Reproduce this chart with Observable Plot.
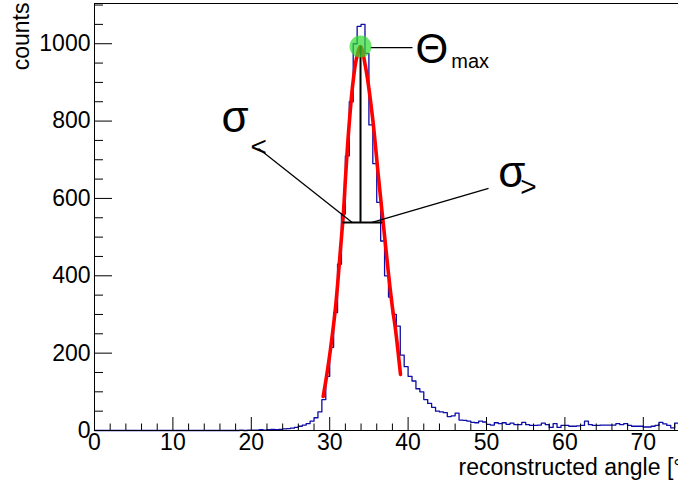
<!DOCTYPE html>
<html>
<head>
<meta charset="utf-8">
<script src="https://cdn.jsdelivr.net/npm/d3@7"></script>
<script src="https://cdn.jsdelivr.net/npm/@observablehq/plot@0.6"></script>
<style>
  html, body { margin: 0; padding: 0; background: #fff; }
  #chart svg { display: block; }
</style>
</head>
<body>
<div id="chart"></div>
<script>
// ---- data ----
const binWidth = 0.5;           // degrees per histogram bin, bins start at 0
const counts = [
  0,0,0,0,0,0,0,0,0,0, 0,0,0,0,0,0,0,0,0,0,   // 0 - 9.5
  0,0,0,0,0,0,0,0,0,0, 0,0,0,0,0,0,           // 10 - 17.5
  0,1,0,1,                                    // 18 - 19.5
  1,1,2,1, 2,3,2,3, 4,5,6,8,                  // 20 - 25.5
  11,14,18,24, 33,48,80,140,                  // 26 - 29.5
  215,305,430,560, 710,850,1000,1045,         // 30 - 33.5
  1050,975,790,690, 590,490,400,345,          // 34 - 37.5
  300,270,195,165, 140,128,108,100,           // 38 - 41.5
  80,70,60,50, 48,46,36,38,                   // 42 - 45.5
  45,27,26,24, 21,20,24,22,                   // 46 - 49.5
  16,14,20,18, 20,16,19,15,                   // 50 - 53.5
  15,21,15,13, 13,14,19,15,                   // 54 - 57.5
  8,18,8,13, 13,11,11,12,                     // 58 - 61.5
  13,24,15,13, 13,14,14,14,                   // 62 - 65.5
  14,18,15,18, 13,11,11,11,                   // 66 - 69.5
  9,9,11,13, 21,17,13,7,                      // 70 - 73.5
  19,15,12,14, 10,13,12,11                    // 74 - 77.5
];

// asymmetric gaussian fit curve
const fitAngle  = [29.17, 29.6, 30.1, 30.74, 31.38, 31.76, 32.02, 32.4, 32.9, 33.4, 33.93,
                   34.57, 35.46, 36.22, 36.86, 37.5, 38.0, 38.39, 39.03];
const fitCounts = [88, 140, 210, 318, 470, 565, 655, 770, 887, 960, 993,
                   940, 810, 655, 530, 405, 318, 262, 145];

const peakAngle = 33.93, peakCount = 993;
const sigmaLevel = 538, sigmaLeftAngle = 31.7, sigmaRightAngle = 36.75;

// pointer lines (from label to target), in data units
const pointerFromAngle = [20.92, 50.26, 35.2];
const pointerFromCount = [729, 626, 990];
const pointerToAngle   = [32.87, 35.42, 40.56];
const pointerToCount   = [538, 538, 990];

// annotation texts
const bigLabels   = [{t: "σ", a: 16.2, c: 807}, {t: "σ", a: 51.5, c: 666}];
const subLabels   = [{t: "<", a: 19.9, c: 734}, {t: ">", a: 54.3, c: 630}];
const thetaLabel  = [{t: "Θ", a: 40.94, c: 985}];
const maxLabel    = [{t: "max", a: 45.5, c: 954}];

const xMajor = [0, 10, 20, 30, 40, 50, 60, 70];
const xMinor = [2,4,6,8,12,14,16,18,22,24,26,28,32,34,36,38,42,44,46,48,52,54,56,58,62,64,66,68,72,74];
const yMajor = [0, 200, 400, 600, 800, 1000];
const yMinor = [50,100,150,250,300,350,450,500,550,650,700,750,850,900,950,1050,1100];

const xTitle = "reconstructed angle [°]";
const yTitle = "counts";

// ---- build tables ----
const hist = counts.map((c, i) => ({x: i * binWidth, y: c}));
hist.push({x: counts.length * binWidth, y: counts[counts.length - 1]});
const fit = fitAngle.map((a, i) => ({x: a, y: fitCounts[i]}));
const pointers = pointerFromAngle.map((a, i) => ({
  x1: a, y1: pointerFromCount[i], x2: pointerToAngle[i], y2: pointerToCount[i]
}));

const FONT = '"Liberation Sans", Arial, Helvetica, sans-serif';
const pxPerDeg = 7.84;

const chart = Plot.plot({
  width: 678,
  height: 483,
  marginLeft: 94,
  marginRight: 0,
  marginTop: 3,
  marginBottom: 53,
  style: {fontFamily: FONT, background: "#fff", color: "#000"},
  x: {domain: [0, 80], range: [94, 94 + 80 * pxPerDeg]},
  y: {domain: [0, 1104], range: [430, 3]},
  marks: [
    Plot.line(hist, {x: "x", y: "y", curve: "step-after", stroke: "#0c0ca6", strokeWidth: 1.3}),
    Plot.line(fit, {x: "x", y: "y", curve: "catmull-rom", stroke: "#ff0000", strokeWidth: 3.6}),
    Plot.ruleX([peakAngle], {y1: sigmaLevel, y2: peakCount, stroke: "#000", strokeWidth: 2}),
    Plot.ruleY([sigmaLevel], {x1: sigmaLeftAngle, x2: sigmaRightAngle, stroke: "#000", strokeWidth: 2}),
    Plot.link(pointers, {x1: "x1", y1: "y1", x2: "x2", y2: "y2", stroke: "#000", strokeWidth: 1.3}),
    Plot.dot([{x: peakAngle, y: peakCount}], {x: "x", y: "y", r: 11, fill: "#2fdc2f", fillOpacity: 0.7, stroke: "none"}),

    // axes (ROOT style: ticks inside)
    Plot.axisY(yMajor, {anchor: "left", tickSize: -18, tickPadding: 22, fontSize: 23, tickFormat: d => String(d), label: null}),
    Plot.axisY(yMinor, {anchor: "left", tickSize: -9, tickFormat: () => "", label: null}),
    Plot.axisX(xMajor, {anchor: "bottom", tickSize: -13, tickPadding: 16, fontSize: 23, tickFormat: d => String(d), label: null}),
    Plot.axisX(xMinor, {anchor: "bottom", tickSize: -6.5, tickFormat: () => "", label: null}),
    Plot.ruleX([0], {stroke: "#000"}),
    Plot.ruleY([0, 1104], {stroke: "#000"}),

    // titles
    Plot.text([yTitle], {frameAnchor: "top-left", dx: -73, dy: -1, rotate: -90, textAnchor: "end", lineAnchor: "middle", fontSize: 23}),
    Plot.text([xTitle], {frameAnchor: "bottom-left", dx: 364, dy: 37, textAnchor: "start", lineAnchor: "middle", fontSize: 23}),

    // annotations
    Plot.text(bigLabels, {x: "a", y: "c", text: "t", textAnchor: "start", lineAnchor: "middle", fontSize: 44}),
    Plot.text(subLabels, {x: "a", y: "c", text: "t", textAnchor: "start", lineAnchor: "middle", fontSize: 28}),
    Plot.text(thetaLabel, {x: "a", y: "c", text: "t", textAnchor: "start", lineAnchor: "middle", fontSize: 42}),
    Plot.text(maxLabel, {x: "a", y: "c", text: "t", textAnchor: "start", lineAnchor: "middle", fontSize: 20})
  ]
});
document.getElementById("chart").appendChild(chart);
</script>
</body>
</html>
